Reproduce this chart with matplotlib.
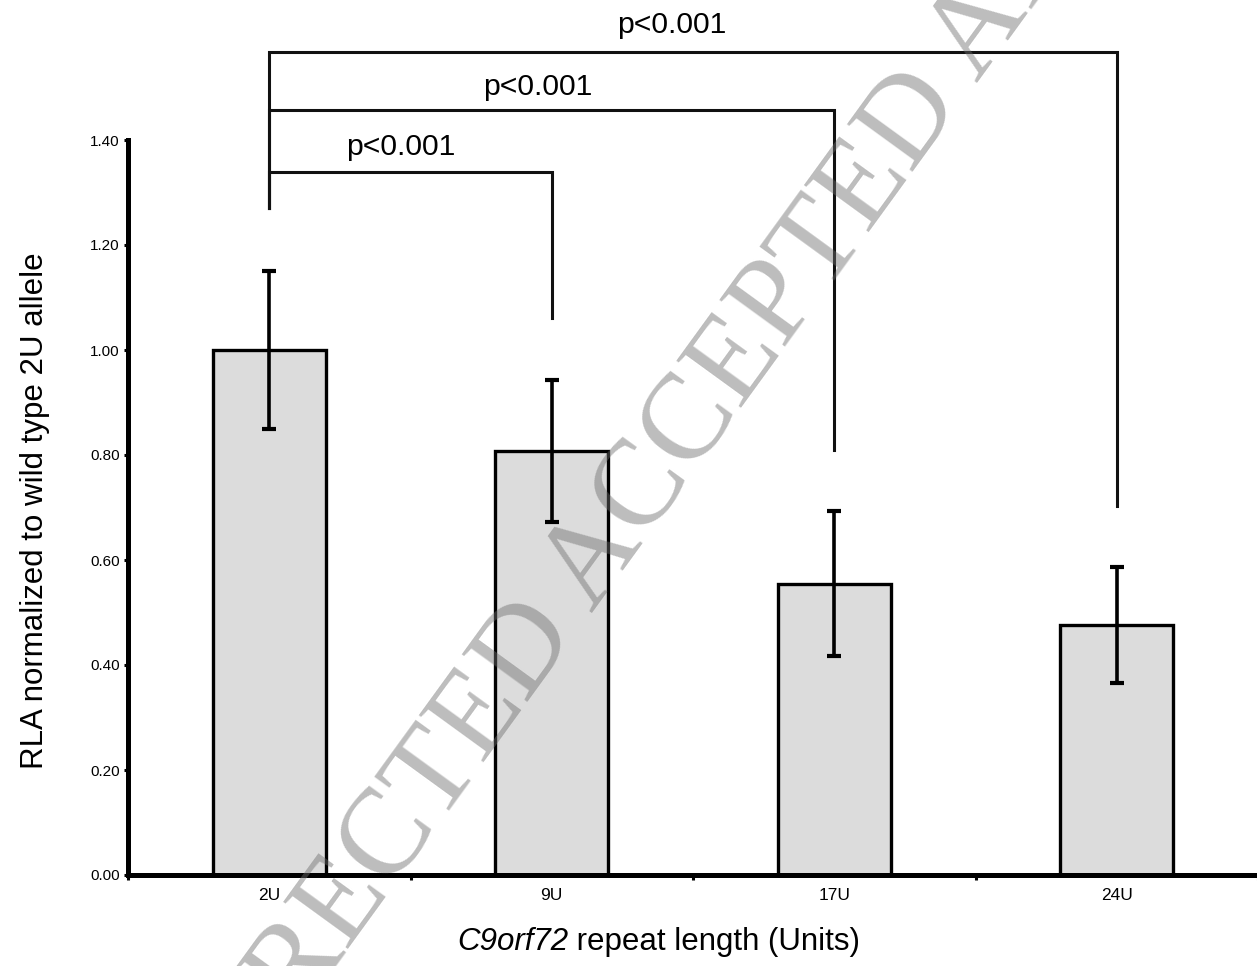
import matplotlib
matplotlib.use("Agg")
import matplotlib.pyplot as plt
from matplotlib.ticker import FixedLocator, FormatStrFormatter

plt.rcParams['font.family'] = ['Liberation Sans', 'DejaVu Sans']

# data
categories = ['2U', '9U', '17U', '24U']
rla = [1.00, 0.808, 0.555, 0.476]
rla_err = [0.15, 0.135, 0.138, 0.11]

# significance brackets: (from, to), bracket level, bottom of the right leg
pairs = [(0, 1), (0, 2), (0, 3)]
bracket_top = [1.339, 1.457, 1.568]
bracket_drop = [1.061, 0.81, 0.703]
bracket_left_end = 1.27
p_labels = ['p<0.001', 'p<0.001', 'p<0.001']
p_label_xy = [(0.467, 1.371), (0.95, 1.486), (1.426, 1.604)]

yticks = [0.0, 0.2, 0.4, 0.6, 0.8, 1.0, 1.2, 1.4]

fig = plt.figure(figsize=(12.57, 9.66), dpi=100)
ax = fig.add_axes([128 / 1257, 91 / 966, 1130 / 1257, 735 / 966])

x = list(range(len(categories)))
ax.bar(x, rla, width=0.4, color='#dcdcdc', edgecolor='black', linewidth=2.4, zorder=1)
ax.errorbar(x, rla, yerr=rla_err, fmt='none', ecolor='black',
            elinewidth=2.6, capsize=4.7, capthick=3, zorder=3)

for (i, j), top, drop in zip(pairs, bracket_top, bracket_drop):
    ax.plot([i, i, j, j], [bracket_left_end, top, top, drop], color='#111111',
            lw=2.2, clip_on=False, solid_joinstyle='miter', zorder=3)
for lab, (lx, ly) in zip(p_labels, p_label_xy):
    ax.text(lx, ly, lab, ha='center', va='baseline', fontsize=21.7, clip_on=False)

ax.set_xlim(-0.5, 3.5)
ax.set_ylim(0, 1.4)

ax.set_yticks(yticks)
ax.yaxis.set_major_formatter(FormatStrFormatter('%.2f'))
ax.tick_params(axis='y', direction='out', length=3, width=2.2, labelsize=11, pad=3)

ax.set_xticks(x)
ax.set_xticklabels(categories)
ax.xaxis.set_minor_locator(FixedLocator([-0.5, 0.5, 1.5, 2.5, 3.5]))
ax.tick_params(axis='x', which='major', length=0, labelsize=12.5, pad=9)
ax.tick_params(axis='x', which='minor', direction='out', length=3.5, width=2.2)

for side in ['top', 'right']:
    ax.spines[side].set_visible(False)
for side in ['left', 'bottom']:
    ax.spines[side].set_linewidth(3.6)

ax.set_ylabel('RLA normalized to wild type 2U allele', fontsize=22.5)
ax.yaxis.set_label_coords(-0.069, 0.495)

# x label: gene name in italics, rest upright
gene = fig.text(457 / 1257, 16 / 966, 'C9orf72', fontsize=22.5, style='italic',
                ha='left', va='baseline')
ax.annotate(' repeat length (Units)', xy=(1, 0), xycoords=gene, fontsize=22.5,
            ha='left', va='bottom', annotation_clip=False)

# watermark
fig.text(638 / 1257, 1 - 500 / 966, 'UNCORRECTED ACCEPTED ARTICLE',
         family='Liberation Serif', fontsize=88, color='#6e6e6e', alpha=0.46,
         rotation=54, rotation_mode='anchor', ha='center', va='center', zorder=10)

fig.savefig('out.png', dpi=100)
